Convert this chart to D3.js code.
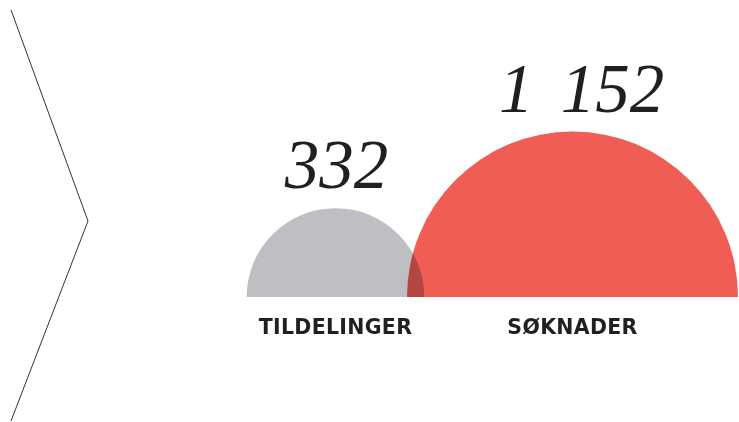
<!DOCTYPE html>
<html>
<head>
<meta charset="utf-8">
<script src="https://cdn.jsdelivr.net/npm/d3@7"></script>
<style>
  body { margin: 0; background: #fff; }
  svg { display: block; }
</style>
</head>
<body>
<svg width="739" height="422"></svg>
<script>
  var categories = ['TILDELINGER', 'SØKNADER'];
  var values = [332, 1152];
  var valueLabels = ['332', '1 152'];
  var colors = ['#bebfc3', '#f05d55'];

  var width = 739;
  var height = 422;
  var baseline = 297;

  var svg = d3.select('svg');

  // chevron on the left
  svg.append('path')
    .attr('d', d3.line()([[11, 10], [88, 221], [11, 421]]))
    .attr('fill', 'none')
    .attr('stroke', '#333')
    .attr('stroke-width', 1);

  // area-proportional radius
  var rScale = d3.scaleSqrt()
    .domain([0, d3.max(values)])
    .range([0, 165.5]);

  var xScale = d3.scalePoint()
    .domain(categories)
    .range([335.5, 572.5]);

  var arc = d3.arc()
    .innerRadius(0)
    .startAngle(-Math.PI / 2)
    .endAngle(Math.PI / 2);

  var g = svg.selectAll('g.item')
    .data(categories)
    .enter().append('g')
    .attr('class', 'item')
    .attr('transform', function (d) { return 'translate(' + xScale(d) + ',' + baseline + ')'; });

  g.append('path')
    .attr('d', function (d, i) { return arc({outerRadius: rScale(values[i])}); })
    .attr('fill', function (d, i) { return colors[i]; })
    .style('mix-blend-mode', 'multiply');

  g.append('text')
    .attr('y', function (d, i) { return -rScale(values[i]) - 20; })
    .attr('dx', function (d, i) { return i == 1 ? 9 : 1; })
    .attr('text-anchor', 'middle')
    .attr('font-family', 'Liberation Serif, serif')
    .attr('font-style', 'italic')
    .attr('font-size', 69)
    .attr('word-spacing', 10)
    .attr('fill', '#231f20')
    .text(function (d, i) { return valueLabels[i]; });

  g.append('text')
    .attr('y', 37)
    .attr('text-anchor', 'middle')
    .attr('font-family', 'DejaVu Sans, sans-serif')
    .attr('font-weight', 'bold')
    .attr('font-size', 20.5)
    .attr('letter-spacing', 0.3)
    .attr('fill', '#231f20')
    .text(function (d) { return d; });
</script>
</body>
</html>
